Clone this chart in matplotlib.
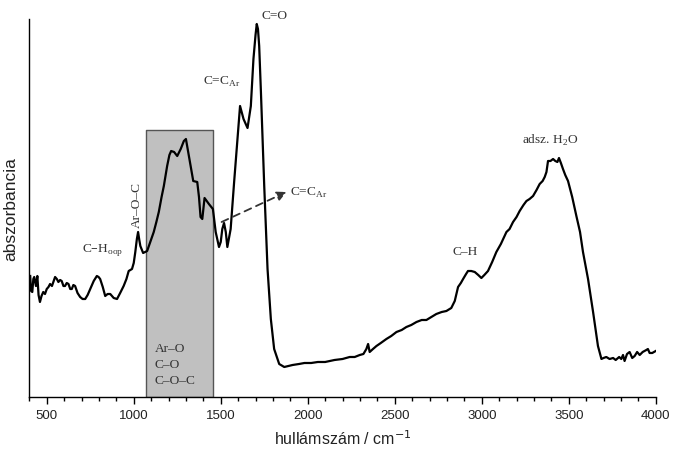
import numpy as np
import matplotlib.pyplot as plt
from matplotlib.ticker import MultipleLocator

# IR spectrum (arbitrary absorbance units)
wavenumber = [405, 410, 417, 423, 428, 438, 446, 453, 461, 470, 480, 490, 500, 510, 519, 530,
              548, 558, 567, 577, 586, 596, 605, 615, 625, 635, 644, 653, 663, 677, 692, 706,
              721, 735, 750, 770, 788, 798, 807, 822, 836, 850, 865, 885, 904, 922, 942, 958,
              971, 990, 1000, 1009, 1018, 1025, 1032, 1038, 1054, 1077, 1095, 1115, 1130, 1144,
              1160, 1173, 1192, 1205, 1215, 1232, 1250, 1270, 1288, 1300, 1317, 1330, 1342,
              1365, 1375, 1384, 1394, 1400, 1407, 1432, 1455, 1471, 1490, 1500, 1509, 1519,
              1529, 1538, 1557, 1577, 1596, 1611, 1631, 1654, 1673, 1688, 1700, 1707, 1714,
              1721, 1731, 1750, 1769, 1788, 1807, 1836, 1865, 1890, 1913, 1950, 1981, 2020,
              2058, 2100, 2154, 2200, 2241, 2270, 2299, 2320, 2337, 2347, 2356, 2375, 2395,
              2420, 2452, 2480, 2510, 2540, 2567, 2595, 2625, 2655, 2682, 2710, 2739, 2770,
              2797, 2825, 2845, 2864, 2880, 2893, 2910, 2921, 2940, 2960, 2980, 2998, 3015,
              3036, 3060, 3084, 3110, 3142, 3160, 3180, 3200, 3218, 3240, 3257, 3275, 3295,
              3315, 3333, 3350, 3362, 3372, 3381, 3395, 3410, 3423, 3435, 3444, 3455, 3467,
              3480, 3496, 3520, 3544, 3565, 3582, 3611, 3640, 3668, 3688, 3700, 3716, 3735,
              3755, 3770, 3790, 3802, 3812, 3821, 3835, 3850, 3865, 3879, 3893, 3908, 3925,
              3946, 3955, 3965, 3980, 4000]
absorbance = [121, 106, 105, 118, 120, 111, 121, 102, 95, 101, 105, 103, 108, 110, 113, 111,
              120, 118, 115, 117, 116, 111, 111, 114, 113, 108, 108, 112, 111, 104, 100, 98,
              98, 102, 108, 116, 121, 120, 118, 110, 101, 103, 103, 99, 98, 104, 111, 118,
              126, 128, 134, 145, 158, 165, 157, 151, 144, 146, 155, 165, 175, 185, 200, 211,
              231, 242, 246, 245, 241, 248, 256, 258, 241, 228, 216, 215, 200, 180, 178, 188,
              199, 193, 188, 165, 150, 155, 168, 174, 165, 150, 168, 215, 258, 291, 278, 269,
              291, 338, 362, 373, 368, 351, 305, 211, 128, 78, 48, 33, 30, 31, 32, 33, 34, 34,
              35, 35, 37, 38, 40, 40, 42, 43, 48, 53, 45, 48, 51, 54, 58, 61, 65, 67, 70, 72,
              75, 77, 77, 80, 83, 85, 86, 89, 96, 110, 114, 118, 123, 126, 126, 125, 122, 119,
              122, 126, 135, 145, 153, 165, 168, 175, 180, 186, 192, 196, 198, 201, 207, 213,
              216, 220, 225, 236, 236, 238, 236, 235, 239, 234, 228, 222, 216, 200, 181, 165,
              145, 118, 85, 51, 38, 39, 40, 38, 39, 37, 40, 38, 42, 36, 43, 45, 39, 41, 45, 42,
              45, 47, 48, 44, 44, 46]

# shaded band (wavenumber range) and its height
band = (1071, 1458)
band_top = 267

plt.rcParams['font.family'] = ['Liberation Sans', 'DejaVu Sans']
serif = ['Liberation Serif', 'DejaVu Serif']
txt_col = '#333333'

fig = plt.figure(figsize=(6.76, 4.60), dpi=100)
ax = fig.add_axes([0.0434, 0.1348, 0.9266, 0.8217])

ax.fill_between(band, 0, band_top, facecolor='#c0c0c0', edgecolor='#555555',
                linewidth=1.0, zorder=1)
ax.plot(wavenumber, absorbance, color='black', linewidth=1.6, zorder=3)

ax.set_xlim(400, 4000)
ax.set_ylim(0, 378)

for s in ['top', 'right']:
    ax.spines[s].set_visible(False)
ax.spines['left'].set_linewidth(1.0)
ax.spines['bottom'].set_linewidth(1.0)
ax.set_yticks([])
ax.xaxis.set_major_locator(MultipleLocator(500))
ax.xaxis.set_minor_locator(MultipleLocator(100))
ax.tick_params(axis='x', which='major', length=5, width=1, labelsize=9.5, pad=4,
               labelcolor='#222222')
ax.tick_params(axis='x', which='minor', length=3, width=1)

ax.set_xlabel('hullámszám / cm$^{-1}$', fontsize=11.5, color='#222222', labelpad=5)
ax.set_ylabel('abszorbancia', fontsize=12.5, color='#222222', labelpad=8)

kw = dict(family=serif, color=txt_col, fontsize=9.6)
ax.text(1808, 382, 'C=O', ha='center', va='center', clip_on=False, **kw)
ax.text(1398, 316, 'C=C$_{\\mathregular{Ar}}$', ha='left', va='center', **kw)
ax.text(1897, 205, 'C=C$_{\\mathregular{Ar}}$', ha='left', va='center', **kw)
ax.text(1017, 193, 'Ar–O–C', ha='center', va='center', rotation=90, **kw)
ax.text(703, 148, 'C–H$_{\\mathregular{oop}}$', ha='left', va='center', **kw)
ax.text(1122, 33, 'Ar–O\nC–O\nC–O–C', ha='left', va='center', linespacing=1.4,
        zorder=4, **kw)
ax.text(2905, 146, 'C–H', ha='center', va='center', **kw)
ax.text(3391, 258, 'adsz. H$_{\\mathregular{2}}$O', ha='center', va='center', **kw)

ax.annotate('', xy=(1878, 205), xytext=(1505, 175),
            arrowprops=dict(arrowstyle='-|>', linestyle=(0, (4, 3)), color='#333333',
                            lw=1.3, mutation_scale=14, shrinkA=0, shrinkB=0),
            zorder=4)

fig.savefig('out.png', dpi=100)
